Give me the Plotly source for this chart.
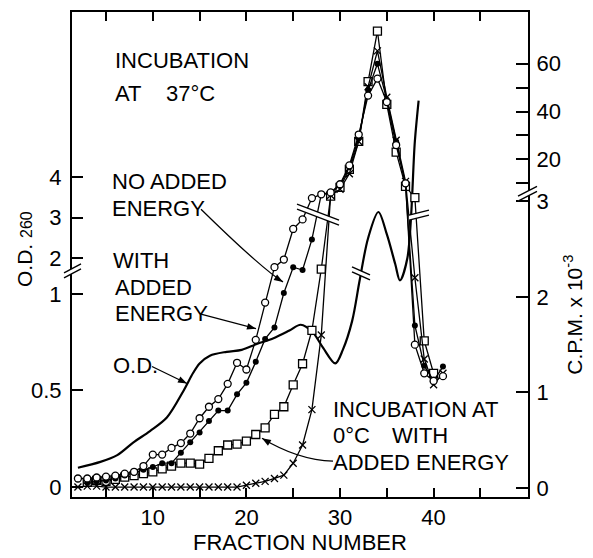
import math
import plotly.graph_objects as go

# ---------------------------------------------------------------- data ----
fraction = list(range(2, 42))

# C.P.M. x 10^-3 ; values above 3 belong to the compressed upper scale
cpm_with_energy = [0.10, 0.10, 0.11, 0.12, 0.13, 0.15, 0.17, 0.23, 0.35, 0.35,
                   0.42, 0.47, 0.57, 0.73, 0.85, 0.93, 1.09, 1.31, 1.24, 1.55,
                   1.94, 2.31, 2.39, 2.71, 2.81, 3.8, 5.4, 6.2, 9.6, 17.5,
                   30.4, 46.7, 53.8, 44.0, 26.0, 10.0, 1.50, 1.20, 1.12, 1.17]
cpm_no_energy = [None, 0.06, 0.07, 0.08, 0.10, 0.13, 0.16, 0.19, 0.22, 0.26,
                 0.26, 0.37, 0.48, 0.58, 0.70, 0.81, 0.81, 0.98, 1.10, 1.32,
                 1.56, 1.68, 2.04, 2.31, 2.28, 2.60, 5.4, 5.8, 9.2, 16.7,
                 29.0, 49.0, 60.0, 45.0, 27.5, 9.6, 1.70, 1.28, 1.12, 1.27]
cpm_cold_energy = [None, 0.06, 0.08, 0.07, 0.09, 0.115, 0.13, 0.15, 0.17, 0.20,
                   0.23, 0.26, 0.26, 0.25, 0.31, 0.39, 0.45, 0.46, 0.49, 0.56,
                   0.63, 0.77, 0.85, 1.08, 1.30, 1.65, 2.29, 4.6, 8.3, 15.8,
                   27.5, 52.5, 73.7, 43.0, 23.0, 8.7, 4.0, 1.54, 1.20, None]
cpm_crosses = [0.01, 0.02, 0.02, 0.01, 0.01, 0.01, 0.01, 0.01, 0.01, 0.01,
               0.01, 0.01, 0.01, 0.01, 0.01, 0.01, 0.01, 0.01, 0.03, 0.05,
               0.07, 0.10, 0.135, 0.26, 0.45, 0.82, 1.60, 5.0, 7.5, 14.0,
               27.5, 50.4, 65.4, 46.0, 28.0, 10.8, 2.20, 1.35, 1.08, 1.20]

# O.D. 260 profile (continuous trace)
od_fraction = [2, 4.4, 6.2, 7.9, 9.7, 11.5, 13.3, 14.3, 15.0, 16.1, 17.9, 19.5,
               21.1, 22.9, 24.6, 25.8, 27.1, 28.2, 29.5, 30.3, 31.3, 32.1, 33.0,
               34.1, 35.0, 35.9, 36.4, 37.2, 38.0, 38.4]
od_260 = [0.10, 0.13, 0.165, 0.23, 0.29, 0.36, 0.50, 0.59, 0.64, 0.68, 0.70,
          0.71, 0.74, 0.77, 0.81, 0.84, 0.80, 0.72, 0.64, 0.71, 0.86, 1.07,
          2.49, 3.14, 2.59, 1.85, 1.07, 2.00, 4.90, 5.90]

od_ticks = [0, 0.5, 1, 2, 3, 4]
od_tick_text = ["0", "0.5", "1", "2", "3", "4"]
cpm_ticks = [0, 1, 2, 3, 20, 40, 60]
cpm_tick_text = ["0", "1", "2", "3", "20", "40", "60"]
cpm_minor_ticks = [10, 30, 50]
x_ticks = [10, 20, 30, 40]
x_tick_text = ["10", "20", "30", "40"]
x_minor_ticks = [5, 15, 25, 35, 45]


# ------------------------------------------------- broken vertical scales --
# both vertical scales share one axis running 0..487 (axis units)
def od_axis(v):
    if v is None:
        return None
    if v <= 1.2:
        return 10 + 194 * v
    return 240 + 40.5 * (v - 2)


def cpm_axis(v):
    if v is None:
        return None
    if v <= 3.05:
        return 9 + 96 * v
    return 291 + 2.4 * v


# ---------------------------------------------------------------- layout --
W, H = 593, 558
L, R, T, B = 72, 528, 10, 497
FONT = "Liberation Sans"


def fx(x):  # canvas pixel -> fraction number
    return 5 + (x - 106) / 9.36


def px(x):  # canvas pixel -> paper x
    return (x - L) / (R - L)


def py(y):  # canvas pixel -> paper y
    return (B - y) / (B - T)


fig = go.Figure()

fig.add_trace(go.Scatter(
    x=od_fraction, y=[od_axis(v) for v in od_260], mode="lines",
    line=dict(color="black", width=2.2, shape="spline", smoothing=0.9),
    hoverinfo="skip", showlegend=False))

series = [
    (cpm_cold_energy, dict(symbol="square", size=8, color="white",
                           line=dict(color="black", width=1.3))),
    (cpm_crosses, dict(symbol="x-thin", size=7,
                       line=dict(color="black", width=1.3))),
    (cpm_no_energy, dict(symbol="circle", size=6, color="black",
                         line=dict(color="black", width=0))),
    (cpm_with_energy, dict(symbol="circle", size=7, color="white",
                           line=dict(color="black", width=1.3))),
]
for vals, mk in series:
    fig.add_trace(go.Scatter(
        x=fraction, y=[cpm_axis(v) for v in vals], mode="lines+markers",
        line=dict(color="black", width=1.3), marker=mk, yaxis="y2",
        connectgaps=False, hoverinfo="skip", showlegend=False))

shapes = []
annotations = []


def polygon(pts, fill, width=0):
    path = "M " + " L ".join(f"{px(a):.5f},{py(b):.5f}" for a, b in pts) + " Z"
    shapes.append(dict(type="path", xref="paper", yref="paper", path=path,
                       fillcolor=fill, line=dict(color="black", width=width)))


def segment(x0, y0, x1, y1, width=1.3):
    shapes.append(dict(type="line", xref="paper", yref="paper",
                       x0=px(x0), y0=py(y0), x1=px(x1), y1=py(y1),
                       line=dict(color="black", width=width)))


def break_mark(x0, y0, x1, y1, gap):
    polygon([(x0, y0), (x1, y1), (x1, y1 + gap), (x0, y0 + gap)], "white")
    for dy in (0, gap):
        segment(x0, y0 + dy, x1, y1 + dy, 1.4)


# axis breaks
break_mark(64, 272, 81, 263, 5)
break_mark(518, 195, 537, 185, 5)
# breaks on the curves
break_mark(297, 203, 339, 219, 5)
break_mark(409, 214, 429, 209, 5)
break_mark(352, 266, 370, 274, 5)


def head(xt, yt, xb, yb, length=9, half=3.3):
    dx, dy = xt - xb, yt - yb
    n = math.hypot(dx, dy)
    ux, uy = dx / n, dy / n
    bx, by = xt - ux * length, yt - uy * length
    polygon([(xt, yt), (bx - uy * half, by + ux * half),
             (bx + uy * half, by - ux * half)], "black")


def arrow(x0, y0, x1, y1):
    segment(x0, y0, x1, y1)
    head(x1, y1, x0, y0)


def curve(x0, y0, cx, cy, x1, y1):
    path = (f"M {px(x0):.5f},{py(y0):.5f} Q {px(cx):.5f},{py(cy):.5f} "
            f"{px(x1):.5f},{py(y1):.5f}")
    shapes.append(dict(type="path", xref="paper", yref="paper", path=path,
                       line=dict(color="black", width=1.3)))
    head(x1, y1, cx, cy)


curve(201, 208, 262, 268, 283, 281)
arrow(200, 313, 256, 328)
arrow(152, 366, 187, 383)
curve(333, 461, 298, 460, 262, 438)


def text(x, y, s, size=22):
    annotations.append(dict(xref="paper", yref="paper", x=px(x), y=py(y),
                            text=s, showarrow=False, xanchor="left",
                            yanchor="middle",
                            font=dict(family=FONT, size=size, color="black")))


text(113, 59, "INCUBATION")
text(113, 92, "AT")
text(164, 92, "37°C")
text(110, 180, "NO ADDED")
text(110, 207, "ENERGY")
text(111, 260, "WITH")
text(113, 287, "ADDED")
text(113, 313, "ENERGY")
text(111, 365, "O.D.")
text(331, 409, "INCUBATION AT")
text(331, 435, "0°C")
text(390, 435, "WITH")
text(331, 462, "ADDED ENERGY")

# axis titles
annotations.append(dict(xref="paper", yref="paper", x=px(300), y=py(557),
                        xanchor="center", yanchor="bottom",
                        text="FRACTION NUMBER", showarrow=False,
                        font=dict(family=FONT, size=22, color="black")))
annotations.append(dict(xref="paper", yref="paper", x=px(24), y=py(248),
                        xanchor="center", yanchor="middle",
                        text='O.D. <span style="font-size:16px">260</span>',
                        textangle=-90, showarrow=False,
                        font=dict(family=FONT, size=21, color="black")))
annotations.append(dict(xref="paper", yref="paper", x=px(573), y=py(314),
                        xanchor="center", yanchor="middle",
                        text="C.P.M. x 10<sup>-3</sup>",
                        textangle=-90, showarrow=False,
                        font=dict(family=FONT, size=21, color="black")))

axis_common = dict(showgrid=False, zeroline=False, showline=True,
                   linecolor="black", linewidth=2, ticks="inside",
                   tickcolor="black", tickwidth=1.5,
                   tickfont=dict(family=FONT, size=22, color="black"))

fig.update_layout(
    width=W, height=H, autosize=False,
    margin=dict(l=L, r=W - R, t=T, b=H - B),
    paper_bgcolor="white", plot_bgcolor="white",
    xaxis=dict(range=[fx(L), fx(R)], tickmode="array", tickvals=x_ticks,
               ticktext=x_tick_text, ticklen=9, mirror="ticks",
               minor=dict(tickmode="array", tickvals=x_minor_ticks,
                          ticks="inside", ticklen=9, tickwidth=1.5,
                          tickcolor="black", showgrid=False),
               **axis_common),
    yaxis=dict(range=[0, B - T], tickmode="array",
               tickvals=[od_axis(v) for v in od_ticks], ticktext=od_tick_text,
               ticklen=11, ticklabelstandoff=4, **axis_common),
    yaxis2=dict(range=[0, B - T], overlaying="y", side="right",
                tickmode="array", tickvals=[cpm_axis(v) for v in cpm_ticks],
                ticktext=cpm_tick_text, ticklen=12, ticklabelstandoff=2,
                minor=dict(tickmode="array",
                           tickvals=[cpm_axis(v) for v in cpm_minor_ticks],
                           ticks="inside", ticklen=12, tickwidth=1.5,
                           tickcolor="black", showgrid=False),
                **axis_common),
    shapes=shapes, annotations=annotations,
)

fig.write_html("out.html")
